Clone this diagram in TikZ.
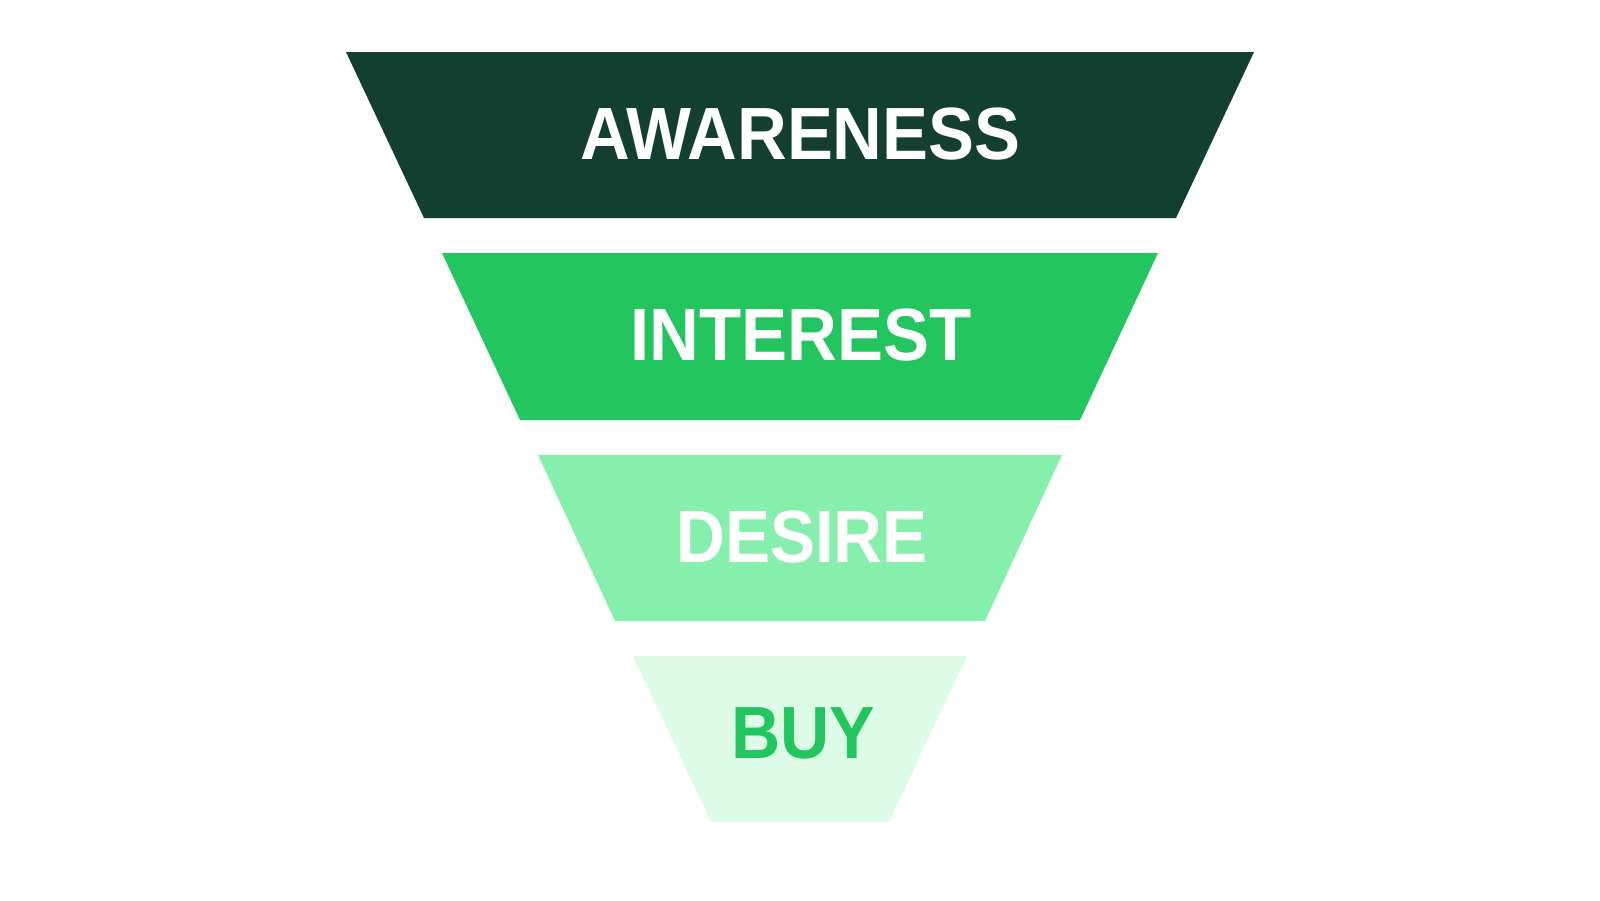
\documentclass[tikz,border=0pt]{standalone}
\usepackage{fontspec}
\setmainfont{Liberation Sans}
\definecolor{cdark}{HTML}{123F30}
\definecolor{cgreen}{HTML}{22C55E}
\definecolor{clight}{HTML}{86EFAC}
\definecolor{cpale}{HTML}{DCFCE7}
\begin{document}
\begin{tikzpicture}[x=1pt,y=-1pt,
  lbl/.style={font=\fontsize{74}{80}\selectfont\bfseries, inner sep=0pt}]
\useasboundingbox (0,0) rectangle (1600,900);
\fill[white] (0,0) rectangle (1600,900);
% bands
\fill[cdark] (346,52) -- (1254,52) -- (1176,218) -- (424,218) -- cycle;
\fill[cgreen] (442,253) -- (1158,253) -- (1080,420) -- (520,420) -- cycle;
\fill[clight] (538,455) -- (1062,455) -- (985,621) -- (615,621) -- cycle;
\fill[cpale] (633,656) -- (967,656) -- (889,822) -- (711,822) -- cycle;
% labels
\node[lbl, text=white] (aw) at (800.5,134) {\scalebox{0.93}[1]{AWARENESS}};
\node[lbl, text=white] (in) at (801,335.5) {\scalebox{0.932}[1]{INTEREST}};
\node[lbl, text=white] (de) at (802,537) {\scalebox{0.913}[1]{DESIRE}};
\node[lbl, text=cgreen] (bu) at (803.5,733) {\scalebox{0.92}[1]{BUY}};
\end{tikzpicture}
\end{document}
